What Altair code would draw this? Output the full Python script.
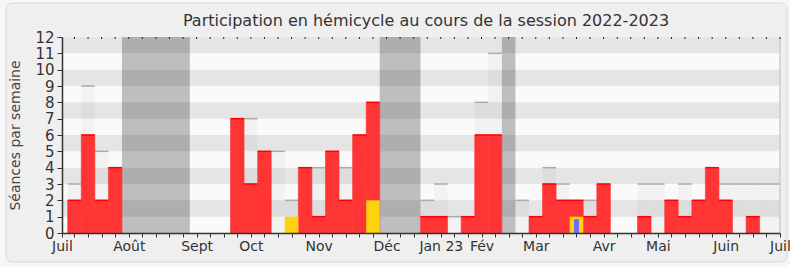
import altair as alt
import pandas as pd

# ---- data (one value per week) ----
weeks = list(range(53))
presence = [2, 6, 2, 4, 0, 0, 0, 0, 0, 0, 0, 0, 7, 3, 5, 0, 0, 4, 1, 5, 2, 6, 8,
            0, 0, 0, 1, 1, 0, 1, 6, 6, 0, 0, 1, 3, 2, 2, 1, 3, 0, 0, 1, 0, 2, 1,
            2, 4, 2, 0, 1, 0, 0]
maximum = [3, 9, 5, 4, 0, 0, 0, 0, 0, 0, 0, 0, 7, 7, 5, 5, 2, 4, 4, 5, 4, 6, 8,
           0, 0, 0, 2, 3, 1, 1, 8, 11, 0, 2, 1, 4, 3, 2, 2, 3, 0, 0, 3, 3, 2, 3,
           2, 4, 3, 3, 3, 3, 3]
interventions = [0] * 53
interventions[16] = 1
interventions[22] = 2
interventions[37] = 1
questions = [0] * 53
questions[37] = 0.85

vac_start = [4, 23, 32]
vac_end = [8, 25, 32]

months = ["Juil", "Août", "Sept", "Oct", "Nov", "Déc", "Jan 23", "Fév",
          "Mar", "Avr", "Mai", "Juin", "Juil"]
month_pos = [-0.92, 4, 9, 13, 18, 23, 27, 30, 34, 39, 43, 48, 52]

y_ticks = list(range(13))
band_low = [1, 3, 5, 7, 9, 11]

title_text = "Participation en hémicycle au cours de la session 2022-2023"

W, H = 718, 196
FONT = "DejaVu Sans"

df = pd.DataFrame({"week": weeks, "presence": presence, "maximum": maximum,
                   "interv": interventions, "quest": questions})
vac = pd.DataFrame({"start": vac_start, "end": vac_end})
bands = pd.DataFrame({"lo": band_low})
one = pd.DataFrame({"t": [title_text]})

xscale = alt.Scale(domain=[month_pos[0], weeks[-1]], nice=False, zero=False)
yscale = alt.Scale(domain=[0, 12], nice=False, zero=True)

label_expr = "''"
for p, m in reversed(list(zip(month_pos, months))):
    label_expr = f"datum.value == {p} ? '{m}' : ({label_expr})"

x_axis = alt.Axis(values=[month_pos[0]] + weeks, labelExpr=label_expr,
                  labelOverlap=False, labelFlush=False, title=None,
                  tickSize=4, tickColor="#333", domainColor="#333",
                  domainWidth=1.5, labelFontSize=14, labelColor="#333",
                  labelFont=FONT, labelPadding=2, grid=False, zindex=1)
y_axis = alt.Axis(values=y_ticks, title="Séances par semaine", tickSize=5,
                  tickColor="#333", domainColor="#333", domainWidth=1.5,
                  labelFontSize=15, labelColor="#333", labelFont=FONT,
                  labelPadding=3, titleFont=FONT, titleFontSize=14,
                  titleFontWeight="normal", titleColor="#444",
                  titlePadding=12, grid=False, zindex=1)


def X(field):
    return alt.X(field, scale=xscale, axis=x_axis)


def Y(field):
    return alt.Y(field, scale=yscale, axis=y_axis)


frame = alt.Chart(one).mark_rect(
    fill="#efefef", stroke="#d6d6d6", strokeWidth=1, cornerRadius=6
).encode(x=alt.value(-56), x2=alt.value(725), y=alt.value(-34), y2=alt.value(225))

title = alt.Chart(one).mark_text(
    font=FONT, fontSize=16, color="#333", align="center", baseline="alphabetic"
).encode(x=alt.value(364), y=alt.value(-11), text="t:N")

plot_bg = alt.Chart(one).mark_rect(fill="#fafafa").encode(
    x=alt.value(0), x2=alt.value(W), y=alt.value(0), y2=alt.value(H))

band_layer = alt.Chart(bands).mark_rect(fill="#e5e5e5").transform_calculate(
    hi="datum.lo + 1"
).encode(x=alt.value(0), x2=alt.value(W), y=Y("lo:Q"), y2="hi:Q")

vac_layer = alt.Chart(vac).mark_rect(fill="black", opacity=0.24, clip=True).transform_calculate(
    x0="datum.start - 0.5", x1="datum.end + 0.5"
).encode(x=X("x0:Q"), x2="x1:Q", y=alt.value(0), y2=alt.value(H))

base = alt.Chart(df).transform_calculate(
    x0="datum.week - 0.5", x1="datum.week + 0.5",
    q0="datum.week - 0.18", q1="datum.week + 0.18", z="0"
)

max_fill = base.transform_filter("datum.maximum > datum.presence").mark_rect(
    fill="black", opacity=0.03, clip=True
).encode(x=X("x0:Q"), x2="x1:Q", y=Y("maximum:Q"), y2="presence:Q")

max_line = base.transform_filter("datum.maximum > datum.presence").mark_rule(
    stroke="#aaaaaa", strokeWidth=1.5, clip=True
).encode(x=X("x0:Q"), x2="x1:Q", y=Y("maximum:Q"))

red = base.transform_filter("datum.presence > 0").mark_rect(
    fill="#ff3434", stroke="#ff3434", strokeWidth=0.6, clip=True
).encode(x=X("x0:Q"), x2="x1:Q", y=Y("presence:Q"), y2="z:Q")

red_line = base.transform_filter("datum.presence > 0").mark_rule(
    stroke="#ff0000", strokeWidth=1.5, clip=True
).encode(x=X("x0:Q"), x2="x1:Q", y=Y("presence:Q"))

yellow = base.transform_filter("datum.interv > 0").mark_rect(
    fill="#ffd20f", clip=True
).encode(x=X("x0:Q"), x2="x1:Q", y=Y("interv:Q"), y2="z:Q")

blue = base.transform_filter("datum.quest > 0").mark_rect(
    fill="#6b6bff", clip=True
).encode(x=X("q0:Q"), x2="q1:Q", y=Y("quest:Q"), y2="z:Q")

right_edge = alt.Chart(one).mark_rule(stroke="#cccccc", strokeWidth=1.5).encode(
    x=alt.value(W), y=alt.value(0), y2=alt.value(H))

top_dots = alt.Chart(pd.DataFrame({"week": weeks})).mark_rule(
    stroke="#222222", strokeWidth=1
).encode(x=X("week:Q"), y=alt.value(0), y2=alt.value(2))

chart = alt.layer(
    frame, title, plot_bg, band_layer, vac_layer, max_fill, max_line, red,
    red_line, yellow, blue, right_edge, top_dots
).properties(
    width=W, height=H,
    background="#f7f7f7",
    padding={"left": 62, "top": 37, "right": 10, "bottom": 34},
    autosize=alt.AutoSizeParams(type="none"),
).configure_view(fill="#fafafa", stroke=None)

chart.save("out.html", embed_options={"renderer": "svg", "actions": False})
